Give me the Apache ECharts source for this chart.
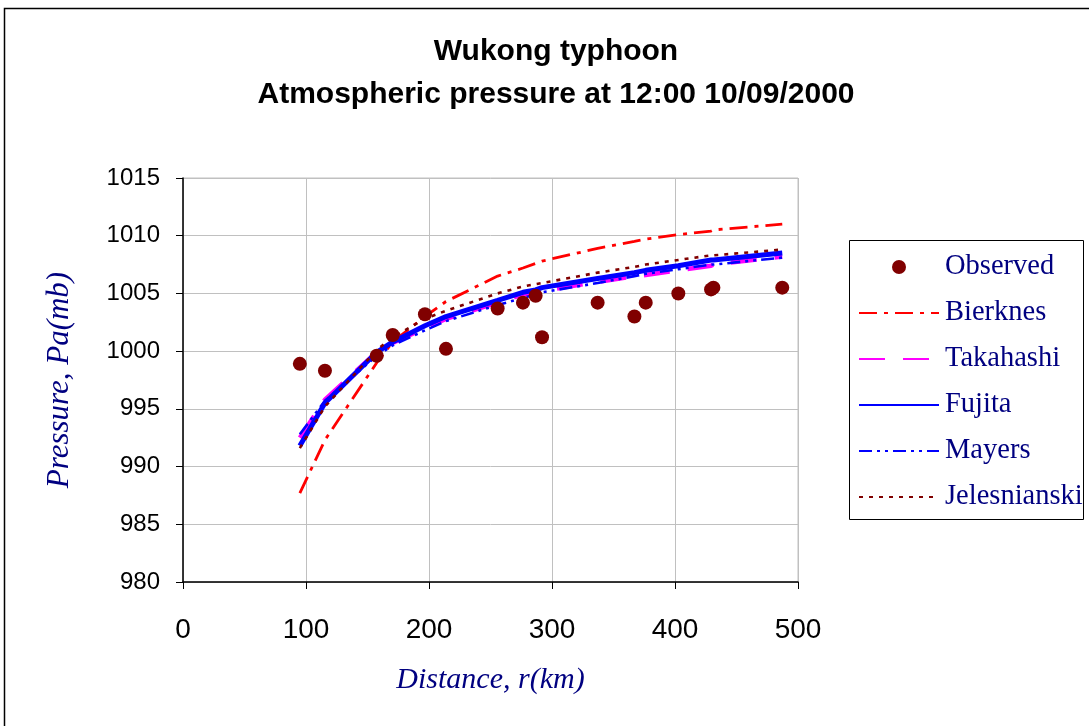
<!DOCTYPE html>
<html><head><meta charset="utf-8">
<script src="https://cdn.jsdelivr.net/npm/echarts@6/dist/echarts.min.js"></script>
<style>html,body{margin:0;padding:0;background:#fff}#c{width:1089px;height:726px}</style>
</head><body><div id="c"></div>
<script>
const titleLines = ['Wukong typhoon', 'Atmospheric pressure at 12:00 10/09/2000'];
const xTicks = [0, 100, 200, 300, 400, 500];
const yTicks = [980, 985, 990, 995, 1000, 1005, 1010, 1015];
const obsX = [95, 115.4, 157.5, 170.5, 196.7, 213.8, 255.8, 276.4, 286.7, 291.9, 337.1, 367, 376.2, 402.7, 429.3, 431.2, 487.2];
const observed = [998.9, 998.3, 999.6, 1001.4, 1003.2, 1000.2, 1003.7, 1004.2, 1004.8, 1001.2, 1004.2, 1003.0, 1004.2, 1005.0, 1005.35, 1005.5, 1005.5];
const bierknes = [987.7, 992.3, 999.0, 1000.8, 1003.0, 1004.3, 1006.5, 1007.2, 1007.6, 1007.8, 1008.9, 1009.5, 1009.7, 1010.1, 1010.4, 1010.5, 1011.0];
const takahashi = [992.5, 995.8, 999.9, 1000.7, 1002.0, 1002.8, 1004.2, 1004.9, 1005.1, 1005.2, 1006.0, 1006.5, 1006.6, 1007.0, 1007.4, 1007.5, 1008.2];
const fujita = [991.8, 995.5, 999.9, 1000.8, 1002.2, 1003.0, 1004.4, 1005.1, 1005.3, 1005.5, 1006.3, 1006.8, 1007.0, 1007.4, 1007.9, 1007.9, 1008.5];
const mayers = [992.8, 995.7, 999.6, 1000.5, 1001.8, 1002.6, 1004.0, 1004.6, 1004.9, 1005.1, 1005.9, 1006.5, 1006.7, 1007.1, 1007.5, 1007.5, 1008.1];
const jelesnianski = [991.6, 995.2, 1000.1, 1001.2, 1002.8, 1003.5, 1005.0, 1005.6, 1005.8, 1005.9, 1006.8, 1007.3, 1007.5, 1007.9, 1008.3, 1008.3, 1008.8];
const seriesNames = ['Observed', 'Bierknes', 'Takahashi', 'Fujita', 'Mayers', 'Jelesnianski'];

const pairs = arr => obsX.map((x, i) => [x, arr[i]]);
const chart = echarts.init(document.getElementById('c'), null, {renderer: 'canvas'});
const serifFont = '"Liberation Serif", "Times New Roman", serif';
const sansFont = '"Liberation Sans", Arial, sans-serif';
const narrowFont = '"Liberation Sans Narrow", "Liberation Sans", Arial, sans-serif';
function lineSeries(name, arr, color, width, dash, z) {
  return {name, type: 'line', data: pairs(arr), symbol: 'none', z,
    lineStyle: {color, width, type: dash}, itemStyle: {color}, animation: false};
}
chart.setOption({
  animation: false,
  backgroundColor: '#fff',
  title: {text: titleLines.join('\n'), left: 551, textAlign: 'center', top: 25,
    textStyle: {fontFamily: sansFont, fontWeight: 'bold', fontSize: 30, color: '#000', lineHeight: 43}},
  grid: {left: 183, top: 178, width: 615, height: 404, show: true, borderColor: '#c0c0c0', borderWidth: 1, backgroundColor: '#fff'},
  graphic: [
    {type: 'rect', shape: {x: 4.5, y: 8.5, width: 1100, height: 730}, style: {fill: 'none', stroke: '#000', lineWidth: 1.5}, z: -10},
    {type: 'rect', shape: {x: 849.5, y: 240.5, width: 234, height: 279}, style: {fill: '#fff', stroke: '#000', lineWidth: 1}, z: 0}
  ],
  legend: {
    data: seriesNames.map((n, i) => i === 0 ? {name: n} : {name: n, itemStyle: {opacity: 0}}),
    orient: 'vertical', left: 858, top: 252, padding: 0,
    itemWidth: 80, itemHeight: 14, itemGap: 16, z: 10,
    textStyle: {fontFamily: serifFont, fontSize: 28.5, color: '#000080', lineHeight: 30, padding: [0, 0, 0, 1]}
  },
  xAxis: {type: 'value', min: 0, max: 500, interval: 100,
    name: 'Distance, r(km)', nameLocation: 'middle', nameGap: 83,
    nameTextStyle: {fontFamily: serifFont, fontStyle: 'italic', fontSize: 30, color: '#000080'},
    axisLine: {show: true, onZero: false, lineStyle: {color: '#000', width: 1.5}},
    axisTick: {show: true, inside: false, length: 7, lineStyle: {color: '#000'}},
    axisLabel: {fontFamily: sansFont, fontSize: 28, color: '#000', margin: 34, formatter: v => xTicks.includes(v) ? String(v) : ''},
    splitLine: {show: true, lineStyle: {color: '#c0c0c0', width: 1}}},
  yAxis: {type: 'value', min: 980, max: 1015, interval: 5,
    name: 'Pressure, Pa(mb)', nameLocation: 'middle', nameGap: 108, nameRotate: 90,
    nameTextStyle: {fontFamily: serifFont, fontStyle: 'italic', fontSize: 31, color: '#000080'},
    axisLine: {show: true, onZero: false, lineStyle: {color: '#000', width: 1.5}},
    axisTick: {show: true, inside: false, length: 7, lineStyle: {color: '#000'}},
    axisLabel: {fontFamily: narrowFont, fontSize: 24, color: '#000', margin: 23, formatter: v => yTicks.includes(v) ? String(v) : ''},
    splitLine: {show: true, lineStyle: {color: '#c0c0c0', width: 1}}},
  series: [
    {name: 'Observed', type: 'scatter', data: pairs(observed), symbol: 'circle', symbolSize: 14, z: 5,
      itemStyle: {color: '#800000', opacity: 1}},
    lineSeries('Bierknes', bierknes, '#FF0000', 2.8, [18, 7, 4, 7], 3),
    lineSeries('Takahashi', takahashi, '#FF00FF', 4.5, [26, 18], 3),
    lineSeries('Fujita', fujita, '#0000FF', 5, 'solid', 4),
    lineSeries('Mayers', mayers, '#0000FF', 2.6, [13, 5, 3, 5, 3, 5], 4),
    lineSeries('Jelesnianski', jelesnianski, '#800000', 2.6, [4, 6], 4)
  ]
});
</script></body></html>
